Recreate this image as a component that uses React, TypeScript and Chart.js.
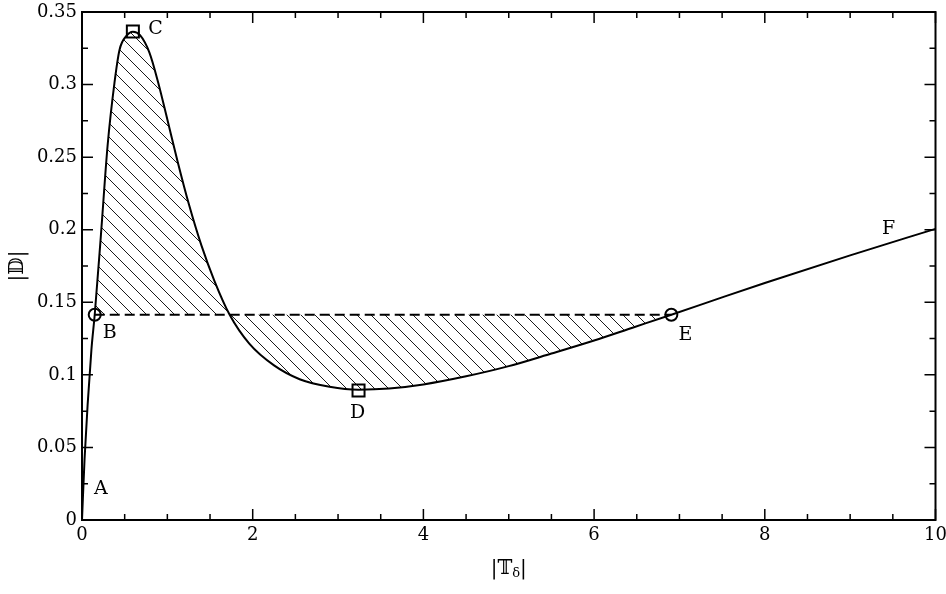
import { useEffect, useRef } from "react";
import { Chart, registerables } from "chart.js";
Chart.register(...registerables);

// curve |D| versus |T_delta|
const curveX = [0, 0.03, 0.11, 0.149, 0.22, 0.3, 0.38, 0.44, 0.52, 0.596, 0.68, 0.79, 0.89, 1.0, 1.12, 1.25, 1.4, 1.55, 1.73, 1.96, 2.25, 2.55, 2.9, 3.24, 3.6, 4.0, 4.5, 5.0, 5.5, 6.0, 6.45, 6.905, 7.5, 8.0, 9.0, 10];
const curveY = [0, 0.042, 0.117, 0.1414, 0.195, 0.258, 0.301, 0.324, 0.3335, 0.3364, 0.334, 0.322, 0.302, 0.276, 0.247, 0.218, 0.189, 0.165, 0.1414, 0.1215, 0.1065, 0.097, 0.0918, 0.0898, 0.0906, 0.0934, 0.099, 0.106, 0.1147, 0.1237, 0.1325, 0.1414, 0.1534, 0.1633, 0.1823, 0.2006];
const hatchFrom = 3; // B
const hatchTo = 31; // E
const plateau = 0.1414;
const plateauX = [0.149, 6.905];
const circleX = [0.149, 6.905];
const circleY = [0.1414, 0.1414];
const squareX = [0.596, 3.24];
const squareY = [0.3366, 0.0893];
const labelNames = ["A", "B", "C", "D", "E", "F"];
const labelX = [0.22, 0.325, 0.86, 3.23, 7.07, 9.45];
const labelY = [0.021, 0.129, 0.338, 0.074, 0.1276, 0.2006];
const xMin = 0, xMax = 10, xStep = 2, xMinor = 0.5;
const yMin = 0, yMax = 0.35, yStep = 0.05, yMinor = 0.025;

const FONT = "'DejaVu Serif', serif";

export default function App() {
  const ref = useRef<HTMLCanvasElement | null>(null);
  useEffect(() => {
    const canvas = ref.current!;
    const pc = document.createElement("canvas");
    const s = 14;
    pc.width = s; pc.height = s;
    const p = pc.getContext("2d")!;
    p.strokeStyle = "#000";
    p.lineWidth = 0.9;
    p.beginPath();
    p.moveTo(-1, -1); p.lineTo(s + 1, s + 1);
    p.moveTo(-1, s - 1); p.lineTo(1, s + 1);
    p.moveTo(s - 1, -1); p.lineTo(s + 1, 1);
    p.stroke();
    const pattern = canvas.getContext("2d")!.createPattern(pc, "repeat")!;

    const curve = curveX.map((x, i) => ({ x, y: curveY[i] }));
    const hatch = curve.slice(hatchFrom, hatchTo + 1);

    const decor = {
      id: "decor",
      afterDraw(chart: any) {
        const ctx = chart.ctx;
        const a = chart.chartArea;
        const xs = chart.scales.x, ys = chart.scales.y;
        ctx.save();
        ctx.strokeStyle = "#000";
        ctx.lineWidth = 2;
        ctx.strokeRect(a.left, a.top, a.right - a.left, a.bottom - a.top);
        ctx.lineWidth = 1.5;
        ctx.beginPath();
        const nx = Math.round((xMax - xMin) / xMinor);
        for (let i = 0; i <= nx; i++) {
          const v = xMin + i * xMinor;
          const major = Math.abs(v / xStep - Math.round(v / xStep)) < 1e-6;
          const len = major ? 11 : 6;
          const px = xs.getPixelForValue(v);
          ctx.moveTo(px, a.bottom); ctx.lineTo(px, a.bottom - len);
          ctx.moveTo(px, a.top); ctx.lineTo(px, a.top + len);
        }
        const ny = Math.round((yMax - yMin) / yMinor);
        for (let i = 0; i <= ny; i++) {
          const v = yMin + i * yMinor;
          const major = i % 2 === 0;
          const len = major ? 11 : 6;
          const py = ys.getPixelForValue(v);
          ctx.moveTo(a.left, py); ctx.lineTo(a.left + len, py);
          ctx.moveTo(a.right, py); ctx.lineTo(a.right - len, py);
        }
        ctx.stroke();

        ctx.fillStyle = "#000";
        ctx.font = "19px " + FONT;
        ctx.textAlign = "center";
        ctx.textBaseline = "middle";
        labelNames.forEach((t, i) => {
          ctx.fillText(t, xs.getPixelForValue(labelX[i]), ys.getPixelForValue(labelY[i]));
        });

        // x title |T_delta|
        const cx = (a.left + a.right) / 2;
        const ty = 567;
        ctx.textBaseline = "alphabetic";
        ctx.textAlign = "left";
        const big = "20px " + FONT, small = "13px " + FONT;
        ctx.font = big;
        const w1 = ctx.measureText("|\u{1D54B}").width;
        const w3 = ctx.measureText("|").width;
        ctx.font = small;
        const w2 = ctx.measureText("\u03B4").width;
        const x0 = cx - (w1 + w2 + w3) / 2;
        ctx.font = big;
        ctx.fillText("|\u{1D54B}", x0, ty + 7);
        ctx.font = small;
        ctx.fillText("\u03B4", x0 + w1, ty + 10);
        ctx.font = big;
        ctx.fillText("|", x0 + w1 + w2, ty + 7);

        // y title |D|
        ctx.translate(18, (a.top + a.bottom) / 2);
        ctx.rotate(-Math.PI / 2);
        ctx.textAlign = "center";
        ctx.textBaseline = "middle";
        ctx.font = big;
        ctx.fillText("|\u{1D53B}|", 0, 0);
        ctx.restore();
      },
    };

    const fmt = (v: any) => String(Number(Number(v).toFixed(4)));

    const chart = new Chart(canvas, {
      type: "scatter",
      data: {
        datasets: [
          {
            data: hatch,
            showLine: true,
            borderWidth: 0,
            borderColor: "rgba(0,0,0,0)",
            pointRadius: 0,
            cubicInterpolationMode: "monotone",
            backgroundColor: pattern as any,
            fill: { value: plateau } as any,
            order: 5,
          },
          {
            data: curve,
            showLine: true,
            borderColor: "#000",
            borderWidth: 2,
            pointRadius: 0,
            cubicInterpolationMode: "monotone",
            fill: false,
            order: 4,
          },
          {
            data: plateauX.map((x) => ({ x, y: plateau })),
            showLine: true,
            borderColor: "#000",
            borderWidth: 2,
            borderDash: [10, 5],
            pointRadius: 0,
            fill: false,
            order: 3,
          },
          {
            data: circleX.map((x, i) => ({ x, y: circleY[i] })),
            showLine: false,
            pointStyle: "circle",
            pointRadius: 6,
            pointBorderWidth: 2,
            pointBorderColor: "#000",
            pointBackgroundColor: "rgba(0,0,0,0)",
            order: 2,
          },
          {
            data: squareX.map((x, i) => ({ x, y: squareY[i] })),
            showLine: false,
            pointStyle: "rect",
            pointRadius: 8.5,
            pointBorderWidth: 2,
            pointBorderColor: "#000",
            pointBackgroundColor: "rgba(0,0,0,0)",
            order: 1,
          },
        ],
      },
      options: {
        animation: false,
        responsive: false,
        events: [],
        layout: { padding: { top: 12, right: 10, left: 0, bottom: 0 } },
        plugins: { legend: { display: false }, tooltip: { enabled: false } },
        scales: {
          x: {
            type: "linear",
            min: xMin,
            max: xMax,
            grid: { display: false, drawTicks: false },
            border: { display: false },
            ticks: { stepSize: xStep, padding: 5, color: "#000", font: { family: FONT, size: 18 }, callback: fmt },
            afterFit(scale: any) {
              scale.height = 74;
              scale.paddingLeft = 0;
              scale.paddingRight = 0;
            },
          },
          y: {
            type: "linear",
            min: yMin,
            max: yMax,
            grid: { display: false, drawTicks: false },
            border: { display: false },
            ticks: { stepSize: yStep, padding: 5, color: "#000", font: { family: FONT, size: 18 }, callback: fmt },
            afterFit(scale: any) {
              scale.width = 82;
              scale.paddingTop = 0;
              scale.paddingBottom = 0;
            },
          },
        },
      },
      plugins: [decor],
    });
    return () => chart.destroy();
  }, []);
  return (
    <div style={{ position: "absolute", left: 0, top: 0, width: 946, height: 594, background: "#fff" }}>
      <canvas ref={ref} width={946} height={594} />
    </div>
  );
}
